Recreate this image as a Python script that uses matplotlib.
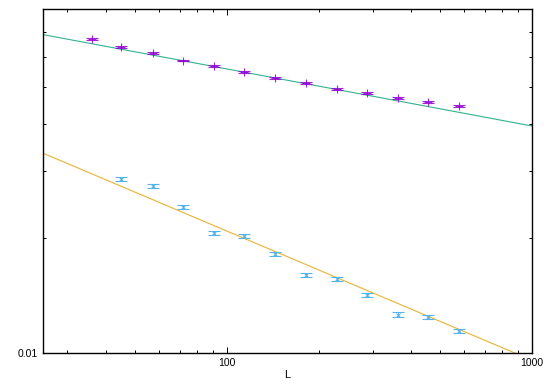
import numpy as np
import matplotlib
matplotlib.use('Agg')
import matplotlib.pyplot as plt
from matplotlib.ticker import FixedLocator, NullFormatter, FixedFormatter

plt.rcParams['font.family'] = ['Liberation Sans', 'DejaVu Sans']

# series 1 (purple, +)
L1 = [36, 45, 57, 72, 91, 114, 144, 181, 229, 288, 363, 457, 576]
y1 = [0.0669, 0.0639, 0.0614, 0.0587, 0.0567, 0.0548, 0.0528, 0.0512,
      0.0495, 0.0482, 0.0469, 0.0457, 0.0445]
e1 = [0.0004, 0.0004, 0.0004, 0.0003, 0.0003, 0.0003, 0.0003, 0.0003,
      0.0003, 0.0003, 0.0003, 0.0003, 0.0003]

# series 2 (blue, x)
L2 = [45, 57, 72, 91, 114, 144, 181, 229, 288, 363, 457, 576]
y2 = [0.0286, 0.0274, 0.0242, 0.0207, 0.0203, 0.0182, 0.0160, 0.0156,
      0.0142, 0.0126, 0.0124, 0.0114]
e2 = [0.00034, 0.00032, 0.00029, 0.00025, 0.00024, 0.00022, 0.0002,
      0.00019, 0.00017, 0.00016, 0.00015, 0.00014]

# power-law fits (straight on log-log), endpoints
fit1_L = [25, 1000]
fit1_y = [0.0687, 0.0395]
fit2_L = [25, 1000]
fit2_y = [0.03347, 0.00955]

fig = plt.figure(figsize=(5.5, 3.85), dpi=100)
ax = fig.add_axes([0.0788, 0.0839, 0.9673 - 0.0788, 0.9758 - 0.0839])

ax.errorbar(L1, y1, yerr=e1, fmt='+', color='#9400d3', ms=6, mew=0.8,
            elinewidth=0.7, capsize=4.5, capthick=0.7, alpha=0.85, zorder=3)
ax.plot(fit1_L, fit1_y, color='#009e73', lw=0.8, alpha=0.8, zorder=2)
ax.errorbar(L2, y2, yerr=e2, fmt='x', color='#56b4e9', ms=3.5, mew=0.8,
            elinewidth=0.7, capsize=4.5, capthick=0.8, zorder=3)
ax.plot(fit2_L, fit2_y, color='#e69f00', lw=0.8, alpha=0.8, zorder=2)

ax.set_xscale('log')
ax.set_yscale('log')
ax.set_xlim(25, 1000)
ax.set_ylim(0.01, 0.0801)

ax.xaxis.set_major_locator(FixedLocator([100, 1000]))
ax.xaxis.set_major_formatter(FixedFormatter(['100', '1000']))
ax.xaxis.set_minor_locator(FixedLocator([30, 40, 50, 60, 70, 80, 90,
                                         200, 300, 400, 500, 600, 700, 800, 900]))
ax.xaxis.set_minor_formatter(NullFormatter())
ax.yaxis.set_major_locator(FixedLocator([0.01]))
ax.yaxis.set_major_formatter(FixedFormatter(['0.01']))
ax.yaxis.set_minor_locator(FixedLocator([0.02, 0.03, 0.04, 0.05, 0.06, 0.07]))
ax.yaxis.set_minor_formatter(NullFormatter())

ax.tick_params(which='both', direction='in', top=True, right=True,
               labelsize=7.5, width=0.7, colors='black', pad=4)
ax.tick_params(which='major', length=4.5)
ax.tick_params(which='minor', length=2.5)
for s in ax.spines.values():
    s.set_linewidth(1.0)

ax.set_xlabel('L', fontsize=8, labelpad=1)

fig.savefig('out.png', dpi=100)
